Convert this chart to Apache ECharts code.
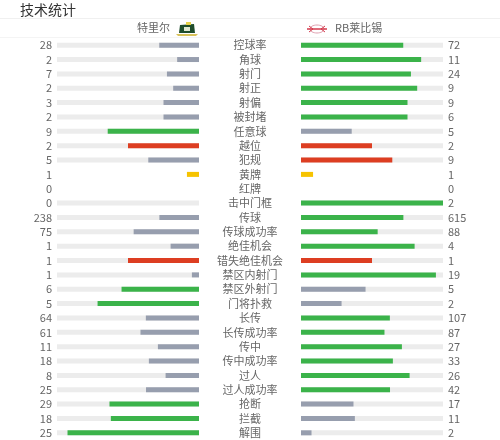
<!DOCTYPE html>
<html>
<head>
<meta charset="utf-8">
<script src="https://cdn.jsdelivr.net/npm/echarts@6/dist/echarts.min.js"></script>
<style>
  html, body { margin: 0; padding: 0; background: #fff; }
  #container { width: 500px; height: 440px; }
</style>
</head>
<body>
<div id="container"></div>
<script>
var myChart = echarts.init(document.getElementById('container'));

var homeTeam = '特里尔';
var awayTeam = 'RB莱比锡';

var categories = ['控球率', '角球', '射门', '射正', '射偏', '被封堵', '任意球', '越位', '犯规',
  '黄牌', '红牌', '击中门框', '传球', '传球成功率', '绝佳机会', '错失绝佳机会', '禁区内射门',
  '禁区外射门', '门将扑救', '长传', '长传成功率', '传中', '传中成功率', '过人', '过人成功率',
  '抢断', '拦截', '解围'];
var homeVals = [28, 2, 7, 2, 3, 2, 9, 2, 5, 1, 0, 0, 238, 75, 1, 1, 1, 6, 5, 64, 61, 11, 18, 8, 25, 29, 18, 25];
var awayVals = [72, 11, 24, 9, 9, 6, 5, 2, 9, 1, 0, 2, 615, 88, 4, 1, 19, 5, 2, 107, 87, 27, 33, 26, 42, 17, 11, 2];

// rows where the higher value is bad (red), and rows drawn as cards
var badRows = ['越位', '犯规', '错失绝佳机会'];
var cardRows = { '黄牌': '#f6c300', '红牌': '#dd3e22' };
var cardSize = 0.085;

var GRAY = '#979eae', GREEN = '#3bb34a', RED = '#dd3e22', TRACK = '#ececec';

function fillItem(i, mine, other) {
  var cat = categories[i];
  if (cardRows[cat]) {
    return { value: mine ? mine * cardSize : null, itemStyle: { color: cardRows[cat] } };
  }
  var total = mine + other;
  if (!total || !mine) return { value: null };
  var color = mine >= other ? (badRows.indexOf(cat) >= 0 ? RED : GREEN) : GRAY;
  return { value: mine / total, itemStyle: { color: color } };
}

function trackData() {
  return categories.map(function (c, i) {
    if (cardRows[c]) return null;
    if (homeVals[i] + awayVals[i] === 0) return null;
    return 1;
  });
}

var homeFill = categories.map(function (c, i) { return fillItem(i, homeVals[i], awayVals[i]); });
var awayFill = categories.map(function (c, i) { return fillItem(i, awayVals[i], homeVals[i]); });

var labelStyle = { color: '#666', fontSize: 11, fontFamily: 'Noto Sans CJK SC' };

var option = {
  backgroundColor: '#fff',
  animation: false,
  title: {
    text: '技术统计',
    left: 15,
    top: -2,
    textStyle: { color: '#333', fontSize: 14, fontWeight: 'normal', fontFamily: 'Noto Sans CJK SC' }
  },
  graphic: [
    { type: 'line', shape: { x1: 0, y1: 18.5, x2: 500, y2: 18.5 }, style: { stroke: '#f0f0f0', lineWidth: 1 } },
    { type: 'line', shape: { x1: 0, y1: 37.5, x2: 500, y2: 37.5 }, style: { stroke: '#f4f4f4', lineWidth: 1 } },
    { type: 'text', right: 330, top: 22, style: { text: homeTeam, fill: '#666', font: '11px "Noto Sans CJK SC"' } },
    { type: 'text', left: 335, top: 22, style: { text: awayTeam, fill: '#666', font: '11px "Noto Sans CJK SC"' } },
    // home badge
    { type: 'polygon', shape: { points: [[180, 25], [194, 24], [195, 33], [179, 33]] }, style: { fill: '#1f4d2c' } },
    { type: 'rect', shape: { x: 184, y: 27, width: 6, height: 4 }, style: { fill: '#dfe8d0' } },
    { type: 'rect', shape: { x: 186, y: 22, width: 5, height: 3 }, style: { fill: '#e7d34a' } },
    { type: 'polygon', shape: { points: [[176, 34], [198, 34], [196, 36], [178, 36]] }, style: { fill: '#d9c25a' } },
    // away badge
    { type: 'ellipse', shape: { cx: 317, cy: 29, rx: 7, ry: 4 }, style: { fill: '#fff', stroke: '#e0a0b0', lineWidth: 1 } },
    { type: 'line', shape: { x1: 307, y1: 29, x2: 327, y2: 29 }, style: { stroke: '#d43a4c', lineWidth: 1.5 } },
    { type: 'polyline', shape: { points: [[309, 26], [313, 29], [309, 32]] }, style: { stroke: '#d43a4c', lineWidth: 1, fill: null } },
    { type: 'polyline', shape: { points: [[325, 26], [321, 29], [325, 32]] }, style: { stroke: '#d43a4c', lineWidth: 1, fill: null } }
  ],
  grid: [
    { left: 57, right: 301, top: 38, bottom: 0 },
    { left: 301, right: 57, top: 38, bottom: 0 }
  ],
  xAxis: [
    { type: 'value', gridIndex: 0, min: 0, max: 1, inverse: true, show: false },
    { type: 'value', gridIndex: 1, min: 0, max: 1, show: false }
  ],
  yAxis: [
    {
      type: 'category', gridIndex: 0, data: categories, inverse: true, position: 'left',
      axisLine: { show: false }, axisTick: { show: false },
      axisLabel: Object.assign({ margin: 5, formatter: function (v, i) { return homeVals[i]; } }, labelStyle)
    },
    {
      type: 'category', gridIndex: 0, data: categories, inverse: true, position: 'right',
      axisLine: { show: false }, axisTick: { show: false },
      axisLabel: Object.assign({ margin: 51, align: 'center' }, labelStyle)
    },
    {
      type: 'category', gridIndex: 1, data: categories, inverse: true, position: 'right',
      axisLine: { show: false }, axisTick: { show: false },
      axisLabel: Object.assign({ margin: 5, formatter: function (v, i) { return awayVals[i]; } }, labelStyle)
    }
  ],
  series: [
    { type: 'bar', xAxisIndex: 0, yAxisIndex: 0, data: trackData(), barWidth: 5, barGap: '-100%',
      itemStyle: { color: TRACK }, silent: true },
    { type: 'bar', xAxisIndex: 0, yAxisIndex: 0, data: homeFill, barWidth: 5, barGap: '-100%' },
    { type: 'bar', xAxisIndex: 1, yAxisIndex: 2, data: trackData(), barWidth: 5, barGap: '-100%',
      itemStyle: { color: TRACK }, silent: true },
    { type: 'bar', xAxisIndex: 1, yAxisIndex: 2, data: awayFill, barWidth: 5, barGap: '-100%' }
  ]
};

myChart.setOption(option);
</script>
</body>
</html>
